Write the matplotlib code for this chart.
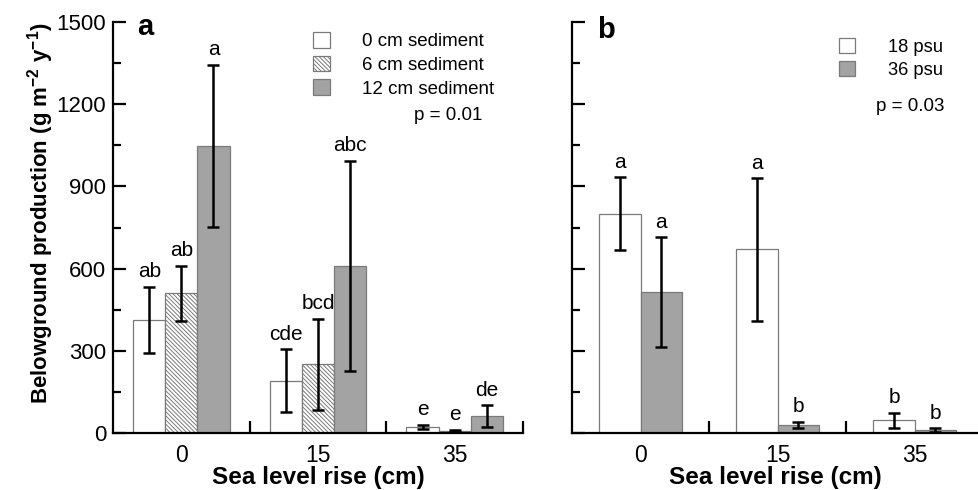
import matplotlib
matplotlib.use("Agg")
import matplotlib.pyplot as plt
import numpy as np
from matplotlib.ticker import MultipleLocator, FixedLocator

plt.rcParams['font.family'] = ['Liberation Sans', 'DejaVu Sans']
plt.rcParams['mathtext.default'] = 'regular'
plt.rcParams['hatch.linewidth'] = 0.7

# ---------------- data ----------------
slr_labels = ["0", "15", "35"]

# panel a: sediment treatments
sed_names = ["0 cm sediment", "6 cm sediment", "12 cm sediment"]
sed0_mean = [413, 191, 21]
sed0_err = [120, 115, 8]
sed6_mean = [510, 251, 7]
sed6_err = [100, 166, 4]
sed12_mean = [1048, 611, 61]
sed12_err = [296, 383, 40]
sed0_letters = ["ab", "cde", "e"]
sed6_letters = ["ab", "bcd", "e"]
sed12_letters = ["a", "abc", "de"]
p_a = "p = 0.01"

# panel b: salinity treatments
sal_names = ["18 psu", "36 psu"]
psu18_mean = [800, 670, 47]
psu18_err = [133, 260, 27]
psu36_mean = [515, 29, 11]
psu36_err = [200, 11, 7]
psu18_letters = ["a", "a", "b"]
psu36_letters = ["a", "b", "b"]
p_b = "p = 0.03"

# ---------------- style ----------------
GRAY = "#a3a3a3"
EDGE = "#7a7a7a"
W, H = 979, 490
fig = plt.figure(figsize=(W / 100, H / 100), dpi=100)

axA = fig.add_axes([113 / W, 57 / H, 410 / W, 411 / H])
axB = fig.add_axes([572 / W, 57 / H, 407 / W, 411 / H])

x = np.arange(len(slr_labels))
err_kw = dict(ecolor="black", elinewidth=1.8, capsize=4.5, capthick=1.8)


def letters(ax, xs, means, errs, labs):
    for xi, m, e, t in zip(xs, means, errs, labs):
        ax.annotate(t, (xi, m + e), xytext=(0, 4), textcoords="offset points",
                    ha="center", va="bottom", fontsize=15)


def style(ax, xmax):
    ax.set_xlim(-0.5, xmax)
    ax.set_ylim(0, 1500)
    for s in ["top", "right"]:
        ax.spines[s].set_visible(False)
    for s in ["left", "bottom"]:
        ax.spines[s].set_linewidth(1.6)
    ax.set_xticks(x)
    ax.set_xticklabels(slr_labels, fontsize=16.5)
    ax.tick_params(axis="x", which="major", length=0, pad=8)
    ax.xaxis.set_minor_locator(FixedLocator([0.5, 1.5, 2.5]))
    ax.tick_params(axis="x", which="minor", direction="in", length=9, width=1.6)
    ax.yaxis.set_major_locator(MultipleLocator(300))
    ax.yaxis.set_minor_locator(MultipleLocator(150))
    ax.tick_params(axis="y", which="major", direction="in", length=9.5, width=1.6,
                   labelsize=16, pad=5)
    ax.tick_params(axis="y", which="minor", direction="in", length=5.5, width=1.6)
    ax.set_xlabel("Sea level rise (cm)", fontsize=17.5, fontweight="bold", labelpad=-1)


# ---------------- panel a ----------------
bw = 0.235
hA = []
for off, mean, err, name, fc, hatch, labs in [
    (-bw, sed0_mean, sed0_err, sed_names[0], "white", None, sed0_letters),
    (0, sed6_mean, sed6_err, sed_names[1], "white", "\\\\\\\\\\\\\\\\", sed6_letters),
    (bw, sed12_mean, sed12_err, sed_names[2], GRAY, None, sed12_letters),
]:
    b = axA.bar(x + off, mean, bw, facecolor=fc, edgecolor=EDGE, linewidth=0.9,
                hatch=hatch, label=name, zorder=2)
    axA.errorbar(x + off, mean, yerr=err, fmt="none", zorder=3, **err_kw)
    letters(axA, x + off, mean, err, labs)
    hA.append(b)

style(axA, 2.5)
axA.set_ylabel("Belowground production (g m$^{-2}$ y$^{-1}$)", fontsize=16,
               fontweight="bold")
axA.yaxis.set_label_coords(-0.14, 0.535)
axA.text(137 / W, 1 - 35 / H, "a", transform=fig.transFigure, fontsize=21,
         fontweight="bold", ha="left", va="baseline")
axA.legend(handles=hA, loc="upper left", bbox_to_anchor=(313 / W, 1 - 32 / H),
           bbox_transform=fig.transFigure, frameon=False, fontsize=13.5,
           handlelength=0.9, handleheight=0.9, handletextpad=1.7,
           labelspacing=0.29, borderpad=0, borderaxespad=0)
axA.text(482 / W, 1 - 115 / H, p_a, transform=fig.transFigure, fontsize=13.5,
         ha="right", va="center")

# ---------------- panel b ----------------
bw2 = 0.30
hB = []
for off, mean, err, name, fc, labs in [
    (-bw2 / 2, psu18_mean, psu18_err, sal_names[0], "white", psu18_letters),
    (bw2 / 2, psu36_mean, psu36_err, sal_names[1], GRAY, psu36_letters),
]:
    b = axB.bar(x + off, mean, bw2, facecolor=fc, edgecolor=EDGE, linewidth=0.9,
                label=name, zorder=2)
    axB.errorbar(x + off, mean, yerr=err, fmt="none", zorder=3, **err_kw)
    letters(axB, x + off, mean, err, labs)
    hB.append(b)

style(axB, 2.47)
axB.tick_params(axis="y", labelleft=False)
axB.text(597 / W, 1 - 38 / H, "b", transform=fig.transFigure, fontsize=21,
         fontweight="bold", ha="left", va="baseline")
axB.legend(handles=hB, loc="upper left", bbox_to_anchor=(839 / W, 1 - 38 / H),
           bbox_transform=fig.transFigure, frameon=False, fontsize=13.2,
           handlelength=0.9, handleheight=0.9, handletextpad=1.75,
           labelspacing=0.29, borderpad=0, borderaxespad=0)
axB.text(944 / W, 1 - 106 / H, p_b, transform=fig.transFigure, fontsize=13.5,
         ha="right", va="center")

fig.savefig("out.png", dpi=100)
